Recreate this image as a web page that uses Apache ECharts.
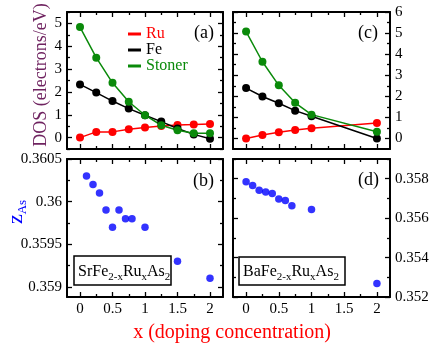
<!DOCTYPE html>
<html><head><meta charset="utf-8">
<script src="https://cdn.jsdelivr.net/npm/echarts@6/dist/echarts.min.js"></script>
<style>html,body{margin:0;padding:0;background:#fff}#c{width:436px;height:354px}</style>
</head><body><div id="c"></div>
<script>
// ---- data ----
const xA = [0, 0.25, 0.5, 0.75, 1, 1.25, 1.5, 1.75, 2];
const ruA = [0, 0.25, 0.25, 0.36, 0.44, 0.51, 0.55, 0.57, 0.6];
const feA = [2.33, 1.97, 1.6, 1.27, 0.98, 0.7, 0.4, 0.14, -0.05];
const stA = [4.84, 3.5, 2.4, 1.57, 0.98, 0.54, 0.32, 0.19, 0.19];

const xC = [0, 0.25, 0.5, 0.75, 1, 2];
const ruC = [0, 0.16, 0.29, 0.4, 0.49, 0.73];
const feC = [2.39, 1.99, 1.67, 1.32, 1.05, 0];
const stC = [5.07, 3.64, 2.52, 1.69, 1.13, 0.32];

const xB = [0.1, 0.2, 0.3, 0.4, 0.5, 0.6, 0.7, 0.8, 1, 1.5, 2];
const zB = [0.3603, 0.3602, 0.3601, 0.3599, 0.3597, 0.3599, 0.3598, 0.3598, 0.3597, 0.3593, 0.3591];

const xD = [0, 0.1, 0.2, 0.3, 0.4, 0.5, 0.6, 0.7, 1, 2];
const zD = [0.35785, 0.35766, 0.35742, 0.35733, 0.35725, 0.35697, 0.3569, 0.35663, 0.35644, 0.35268];

const xTicks = [0, 0.5, 1, 1.5, 2];
const xMinor = [0.25, 0.75, 1.25, 1.75];
const yTicksA = [0, 1, 2, 3, 4, 5];
const yMinorA = [-0.5, 0.5, 1.5, 2.5, 3.5, 4.5, 5.5];
const yTicksC = [0, 1, 2, 3, 4, 5, 6];
const yMinorC = [0.5, 1.5, 2.5, 3.5, 4.5, 5.5];
const yTicksB = [0.359, 0.3595, 0.36, 0.3605];
const yMinorB = [0.35925, 0.35975, 0.36025];
const yTicksD = [0.352, 0.354, 0.356, 0.358];
const yMinorD = [0.353, 0.355, 0.357, 0.359];

// ---- layout ----
const FONT = 'Liberation Serif';
const grids = [
  {left: 67, top: 12, width: 156, height: 137},
  {left: 233, top: 12, width: 157, height: 137},
  {left: 67, top: 159, width: 156, height: 138},
  {left: 233, top: 159, width: 157, height: 138}
];
const xRange = [-0.2, 2.2];
const yRanges = [[-0.5, 5.5], [-0.5, 6], [0.35888, 0.3605], [0.352, 0.359]];
const yMaj = [yTicksA, yTicksC, yTicksB, yTicksD];
const yMin = [yMinorA, yMinorC, yMinorB, yMinorD];
const yLabelSide = ['left', 'right', 'left', 'right'];
const xLabelShow = [false, false, true, true];

const xAxes = [], yAxes = [];
const axisLine = {show: true, onZero: false, lineStyle: {color: '#000', width: 2}};
const noLine = {show: false, onZero: false};
const labelStyle = {fontFamily: FONT, fontSize: 15, color: '#000'};
const tickStyle = {width: 1.3, color: '#000'};
function fmtY(v) { return String(+v.toFixed(5)); }

grids.forEach((g, gi) => {
  ['bottom', 'top'].forEach(pos => {
    xAxes.push({
      type: 'value', gridIndex: gi, position: pos, min: xRange[0], max: xRange[1],
      axisLine: axisLine, splitLine: {show: false},
      axisTick: {show: true, inside: true, length: 5, customValues: xTicks, lineStyle: tickStyle},
      axisLabel: (pos === 'bottom' && xLabelShow[gi]) ?
        Object.assign({show: true, customValues: xTicks, margin: 5, formatter: v => String(v)}, labelStyle) :
        {show: false}
    });
  });
  ['bottom', 'top'].forEach(pos => {
    xAxes.push({
      type: 'value', gridIndex: gi, position: pos, min: xRange[0], max: xRange[1],
      axisLine: noLine, splitLine: {show: false},
      axisTick: {show: true, inside: true, length: 3, customValues: xMinor, lineStyle: tickStyle},
      axisLabel: {show: false}
    });
  });
  const side = yLabelSide[gi];
  ['left', 'right'].forEach(pos => {
    yAxes.push({
      type: 'value', gridIndex: gi, position: pos, min: yRanges[gi][0], max: yRanges[gi][1],
      axisLine: axisLine, splitLine: {show: false},
      axisTick: {show: true, inside: true, length: 5, customValues: yMaj[gi], lineStyle: tickStyle},
      axisLabel: (pos === side) ?
        Object.assign({show: true, customValues: yMaj[gi], margin: 5, formatter: fmtY}, labelStyle) :
        {show: false}
    });
  });
  ['left', 'right'].forEach(pos => {
    yAxes.push({
      type: 'value', gridIndex: gi, position: pos, min: yRanges[gi][0], max: yRanges[gi][1],
      axisLine: noLine, splitLine: {show: false},
      axisTick: {show: true, inside: true, length: 3, customValues: yMin[gi], lineStyle: tickStyle},
      axisLabel: {show: false}
    });
  });
});

const RED = '#ff0000', BLACK = '#000000', GREEN = '#0a8a0a', BLUE = '#0000ff';
function zip(xs, ys) { return xs.map((x, i) => [x, ys[i]]); }
function lineSeries(name, gi, xs, ys, color) {
  return {
    name: name, type: 'line', xAxisIndex: gi * 4, yAxisIndex: gi * 4,
    data: zip(xs, ys), symbol: 'circle', symbolSize: 8, showSymbol: true,
    itemStyle: {color: color}, lineStyle: {color: color, width: 1.5},
    animation: false, clip: false
  };
}
function scatterSeries(gi, xs, ys) {
  return {
    type: 'scatter', xAxisIndex: gi * 4, yAxisIndex: gi * 4,
    data: zip(xs, ys), symbol: 'circle', symbolSize: 7.5,
    itemStyle: {color: BLUE}, animation: false
  };
}

const series = [
  lineSeries('Ru', 0, xA, ruA, RED),
  lineSeries('Fe', 0, xA, feA, BLACK),
  lineSeries('Stoner', 0, xA, stA, GREEN),
  lineSeries('Ru', 1, xC, ruC, RED),
  lineSeries('Fe', 1, xC, feC, BLACK),
  lineSeries('Stoner', 1, xC, stC, GREEN),
  scatterSeries(2, xB, zB),
  scatterSeries(3, xD, zD)
];

function panelLabel(text, x, y) {
  return {type: 'text', x: x, y: y, style: {text: text, font: '18px "Liberation Serif"', fill: '#000', align: 'right', verticalAlign: 'middle'}};
}
const compRich = {
  n: {fontFamily: FONT, fontSize: 16, fill: '#000', lineHeight: 16, verticalAlign: 'top'},
  s: {fontFamily: FONT, fontSize: 11, fill: '#000', lineHeight: 11, verticalAlign: 'top', padding: [8, 0, 0, 0]}
};
function compoundBox(first, x, y, w, h) {
  return [
    {type: 'rect', shape: {x: x, y: y, width: w, height: h},
     style: {fill: '#fff', stroke: '#000', lineWidth: 1.5}, z: 10},
    {type: 'text', x: x + 4, y: y + h / 2 + 1, z: 11,
     style: {text: '{n|' + first + '}{s|2-x}{n|Ru}{s|x}{n|As}{s|2}', rich: compRich,
             align: 'left', verticalAlign: 'middle'}}
  ];
}

const option = {
  backgroundColor: '#ffffff',
  animation: false,
  grid: grids.map(g => Object.assign({containLabel: false}, g)),
  xAxis: xAxes,
  yAxis: yAxes,
  legend: {
    orient: 'vertical', left: 123, top: 21, itemWidth: 13, itemHeight: 3, itemGap: 0,
    icon: 'rect', selectedMode: false,
    textStyle: {fontFamily: FONT, fontSize: 16},
    data: [
      {name: 'Ru', textStyle: {color: RED}},
      {name: 'Fe', textStyle: {color: BLACK}},
      {name: 'Stoner', textStyle: {color: GREEN}}
    ]
  },
  series: series,
  graphic: [
    panelLabel('(a)', 214, 33),
    panelLabel('(c)', 378, 33),
    panelLabel('(b)', 214, 181),
    panelLabel('(d)', 379, 180)
  ].concat(compoundBox('SrFe', 74, 256, 97, 29))
   .concat(compoundBox('BaFe', 239, 257, 106, 28))
   .concat([
    {type: 'text', x: 41, y: 75, rotation: Math.PI / 2,
     style: {text: 'DOS (electrons/eV)', font: '18px "Liberation Serif"', fill: '#6f2360', align: 'center', verticalAlign: 'middle'}},
    {type: 'text', x: 15, y: 212, rotation: Math.PI / 2,
     style: {text: '{z|z}{s|As}', align: 'center', verticalAlign: 'middle',
       rich: {z: {fontFamily: FONT, fontSize: 22, fill: BLUE, lineHeight: 20, verticalAlign: 'top'},
              s: {fontFamily: FONT, fontSize: 13, fill: BLUE, lineHeight: 13, verticalAlign: 'top', padding: [11, 0, 0, 0]}}}},
    {type: 'text', x: 232, y: 333,
     style: {text: 'x (doping concentration)', font: '20px "Liberation Serif"', fill: RED, align: 'center', verticalAlign: 'middle'}}
  ])
};
const chart = echarts.init(document.getElementById('c'), null, {renderer: 'canvas'});
chart.setOption(option);
</script></body></html>
